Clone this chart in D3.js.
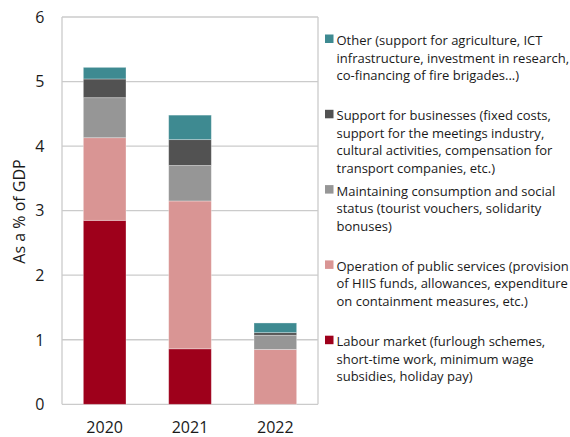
<!DOCTYPE html>
<html>
<head>
<meta charset="utf-8">
<script src="https://cdn.jsdelivr.net/npm/d3@7"></script>
<style>
  body { margin: 0; background: #fff; }
  svg { display: block; font-family: "Open Sans", "Noto Sans", sans-serif; }
</style>
</head>
<body>
<svg id="chart" width="570" height="437"></svg>
<script>
// Emergency support measures, as a % of GDP
const years = ["2020", "2021", "2022"];
const labourMarket   = [2.85, 0.86, 0.00];
const publicServices = [1.28, 2.29, 0.85];
const consumption    = [0.62, 0.55, 0.22];
const businesses     = [0.29, 0.40, 0.04];
const otherMeasures  = [0.18, 0.38, 0.15];
const yTicks = [0, 1, 2, 3, 4, 5, 6];

// stacking order, bottom to top
const seriesKeys = ["labour", "public", "consumption", "businesses", "other"];
const seriesValues = {
  labour: labourMarket,
  public: publicServices,
  consumption: consumption,
  businesses: businesses,
  other: otherMeasures
};
const seriesColors = {
  labour: "#9e001b",
  public: "#d99594",
  consumption: "#969696",
  businesses: "#525252",
  other: "#3e8a91"
};
const legendLabels = {
  other: ["Other (support for agriculture, ICT",
          "infrastructure, investment in research,",
          "co-financing of fire brigades...)"],
  businesses: ["Support for businesses (fixed costs,",
               "support for the meetings industry,",
               "cultural activities, compensation for",
               "transport companies, etc.)"],
  consumption: ["Maintaining consumption and social",
                "status (tourist vouchers, solidarity",
                "bonuses)"],
  public: ["Operation of public services (provision",
           "of HIIS funds, allowances, expenditure",
           "on containment measures, etc.)"],
  labour: ["Labour market (furlough schemes,",
           "short-time work, minimum wage",
           "subsidies, holiday pay)"]
};
const legendOrder = ["other", "businesses", "consumption", "public", "labour"];

const svg = d3.select("#chart");
const plot = { left: 62, right: 318, top: 17, bottom: 404.3 };

const x = d3.scaleBand().domain(years)
  .range([plot.left, plot.right]).paddingInner(0.5).paddingOuter(0.25);
const y = d3.scaleLinear().domain([0, 6]).range([plot.bottom, plot.top]);

const gridColor = "#cbcbcb";

// horizontal gridlines (including the 0 baseline and the top edge)
svg.append("g").selectAll("line").data(yTicks).join("line")
  .attr("x1", plot.left).attr("x2", plot.right)
  .attr("y1", d => y(d)).attr("y2", d => y(d))
  .attr("stroke", gridColor).attr("stroke-width", 1.3);

// frame sides
svg.append("g").selectAll("line").data([plot.left, plot.right]).join("line")
  .attr("x1", d => d).attr("x2", d => d)
  .attr("y1", plot.top).attr("y2", plot.bottom)
  .attr("stroke", gridColor).attr("stroke-width", 1.3);

// stacked bars
const rows = years.map((yr, i) => {
  const r = { year: yr };
  seriesKeys.forEach(k => { r[k] = seriesValues[k][i]; });
  return r;
});
const stacked = d3.stack().keys(seriesKeys)(rows);

svg.append("g").selectAll("g").data(stacked).join("g")
  .attr("fill", d => seriesColors[d.key])
  .selectAll("rect").data(d => d.filter(s => s[1] > s[0])).join("rect")
  .attr("x", d => x(d.data.year))
  .attr("width", x.bandwidth())
  .attr("y", d => y(d[1]))
  .attr("height", d => y(d[0]) - y(d[1]))
  .attr("stroke", "#fff").attr("stroke-opacity", 0.4).attr("stroke-width", 0.8);

// y axis tick labels
svg.append("g").selectAll("text").data(yTicks).join("text")
  .attr("x", 44.5).attr("y", d => y(d) + 5.8)
  .attr("text-anchor", "end")
  .attr("font-size", 16).attr("fill", "#1a1a1a")
  .text(d => d);

// x axis labels
svg.append("g").selectAll("text").data(years).join("text")
  .attr("x", d => x(d) + x.bandwidth() / 2).attr("y", 432.8)
  .attr("text-anchor", "middle")
  .attr("font-size", 16).attr("fill", "#1a1a1a")
  .text(d => d);

// y axis title
svg.append("text")
  .attr("transform", "translate(24.5,211.5) rotate(-90)")
  .attr("text-anchor", "middle")
  .attr("font-size", 16).attr("fill", "#1a1a1a")
  .text("As a % of GDP");

// legend
const legend = svg.append("g").attr("font-size", 13).attr("fill", "#1a1a1a");
const entry = legend.selectAll("g").data(legendOrder).join("g")
  .attr("transform", (d, i) => `translate(0,${45 + i * 75.3})`);
entry.append("rect")
  .attr("x", 325).attr("y", -10.5).attr("width", 8.5).attr("height", 8.5)
  .attr("fill", d => seriesColors[d]);
entry.append("text")
  .selectAll("tspan").data(d => legendLabels[d]).join("tspan")
  .attr("x", 336.5).attr("y", (d, i) => i * 17.5)
  .text(d => d);
</script>
</body>
</html>
